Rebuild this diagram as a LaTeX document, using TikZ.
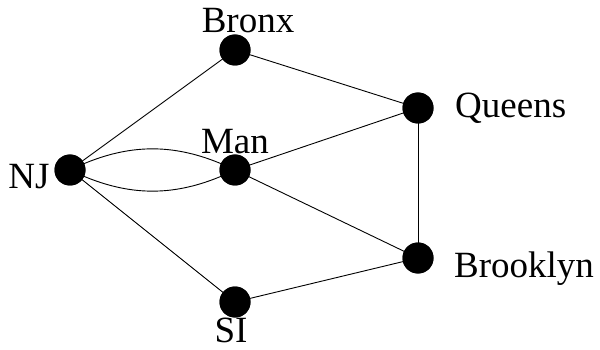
\documentclass[tikz,border=0pt]{standalone}
\usepackage{fontspec}
\setmainfont{Liberation Serif}
\begin{document}
\begin{tikzpicture}[x=1pt,y=-1pt,
  vtx/.style={circle,fill=black,inner sep=0pt,minimum size=31pt},
  lbl/.style={font=\fontsize{37}{40}\selectfont,inner sep=0pt},
  edge/.style={line width=0.9pt}]
\useasboundingbox (0,0) rectangle (600,350);
\node[vtx] (NJ) at (70,170) {};
\node[vtx] (Bronx) at (235,50) {};
\node[vtx] (Man) at (235,170) {};
\node[vtx] (Queens) at (418,108) {};
\node[vtx] (Brooklyn) at (418,258) {};
\node[vtx] (SI) at (235,302) {};
\node[lbl,anchor=base] (lNJ) at (29,189) {NJ};
\node[lbl,anchor=base] (lBronx) at (248,33) {Bronx};
\node[lbl,anchor=base] (lMan) at (235,154) {Man};
\node[lbl,anchor=base west] (lQueens) at (455,118) {Queens};
\node[lbl,anchor=base west] (lBrooklyn) at (454,277) {Brooklyn};
\node[lbl,anchor=base] (lSI) at (231,342) {SI};
\draw[edge] (NJ.center) -- (Bronx.center);
\draw[edge] (NJ.center) to[bend left=26] (Man.center);
\draw[edge] (NJ.center) to[bend right=26] (Man.center);
\draw[edge] (NJ.center) -- (SI.center);
\draw[edge] (Bronx.center) -- (Queens.center);
\draw[edge] (Man.center) -- (Queens.center);
\draw[edge] (Man.center) -- (Brooklyn.center);
\draw[edge] (Queens.center) -- (Brooklyn.center);
\draw[edge] (SI.center) -- (Brooklyn.center);
\foreach \n in {NJ,Bronx,Man,Queens,Brooklyn,SI} \fill (\n) circle (15.5pt);
\end{tikzpicture}
\end{document}
